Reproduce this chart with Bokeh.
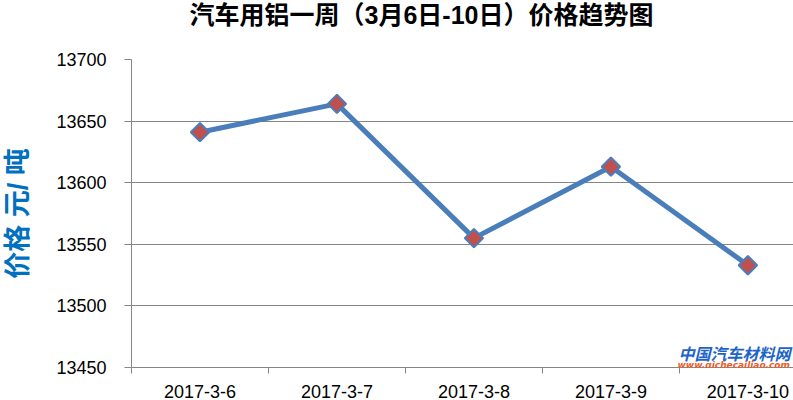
import math
from bokeh.plotting import figure
from bokeh.models import Range1d, FixedTicker, ColumnDataSource, Label, Title
from bokeh.embed import file_html
from bokeh.resources import INLINE

# ---- data ----
categories = ["2017-3-6", "2017-3-7", "2017-3-8", "2017-3-9", "2017-3-10"]
prices = [13641, 13664, 13555, 13613, 13533]
y_ticks = [13450, 13500, 13550, 13600, 13650, 13700]
title_text = "汽车用铝一周（3月6日-10日）价格趋势图"
y_label = "价格 元/ 吨"
wm_name = "中国汽车材料网"
wm_url = "www.qichecailiao.com"

GRID = "#868686"
LINE = "#4A7EBB"
MARK = "#C0504D"
TICK_FONT = "Liberation Sans"
CJK_FONT = "Liberation Sans, Noto Sans CJK SC"

xpos = [i + 0.5 for i in range(len(categories))]
src = ColumnDataSource(dict(x=xpos, y=prices))

p = figure(width=793, height=400, output_backend="svg", toolbar_location=None,
           x_range=Range1d(0, 4.833), y_range=Range1d(y_ticks[0], y_ticks[-1]),
           min_border_left=126, min_border_right=0, min_border_top=0,
           min_border_bottom=33)
p.outline_line_color = None
p.background_fill_color = "white"
p.border_fill_color = "white"

# title (outermost panel, aligned to the top of the canvas)
p.title.text = title_text
p.title.text_font = CJK_FONT
p.title.text_font_size = "25px"
p.title.text_font_style = "bold"
p.title.text_color = "#000000"
p.title.align = "left"
p.title.vertical_align = "top"
p.title.offset = 58
p.title.standoff = 0

# blank spacer between the title and the plot frame
p.add_layout(Title(text=" ", text_font_size="1px", standoff=26), "above")

# grids
p.xgrid.visible = False
p.ygrid.ticker = FixedTicker(ticks=y_ticks)
p.ygrid.grid_line_color = GRID
p.ygrid.grid_line_width = 1

# y axis
ya = p.yaxis[0]
ya.ticker = FixedTicker(ticks=y_ticks)
ya.axis_line_color = GRID
ya.major_tick_line_color = GRID
ya.major_tick_out = 7
ya.major_tick_in = 0
ya.minor_tick_out = 0
ya.minor_tick_in = 0
ya.major_label_text_font = TICK_FONT
ya.major_label_text_font_size = "18px"
ya.major_label_text_color = "#000000"
ya.major_label_standoff = 18
ya.axis_label = y_label
ya.axis_label_text_font = CJK_FONT
ya.axis_label_text_font_size = "27px"
ya.axis_label_text_font_style = "bold"
ya.axis_label_text_color = "#0070C0"
ya.axis_label_standoff = 20

# x axis: labels at category centres, ticks on category boundaries
xa = p.xaxis[0]
xa.ticker = FixedTicker(ticks=xpos, minor_ticks=list(range(len(categories) + 1)))
xa.major_label_overrides = {x: c for x, c in zip(xpos, categories)}
xa.axis_line_color = GRID
xa.major_tick_out = 0
xa.major_tick_in = 0
xa.minor_tick_out = 6
xa.minor_tick_in = 0
xa.minor_tick_line_color = GRID
xa.major_label_text_font = TICK_FONT
xa.major_label_text_font_size = "18px"
xa.major_label_text_color = "#000000"
xa.major_label_standoff = 11

# series
p.line("x", "y", source=src, line_color=LINE, line_width=5, line_join="round")
p.scatter("x", "y", source=src, marker="square", size=13, angle=math.pi / 4,
          fill_color=MARK, line_color=LINE, line_width=2)

# watermark text (kept inside the plot frame, bottom right)
p.add_layout(Label(x=678, y=352, x_units="canvas", y_units="canvas", text=wm_name,
                   text_font="Noto Sans CJK SC", text_font_size="16px",
                   text_font_style="bold italic", text_color="#1E64C8",
                   text_baseline="alphabetic"))
p.add_layout(Label(x=677, y=364, x_units="canvas", y_units="canvas", text=wm_url,
                   text_font="DejaVu Sans", text_font_size="9px",
                   text_font_style="bold italic", text_color="#F05A1E",
                   text_baseline="alphabetic"))

open("out.html", "w").write(file_html(p, INLINE))
